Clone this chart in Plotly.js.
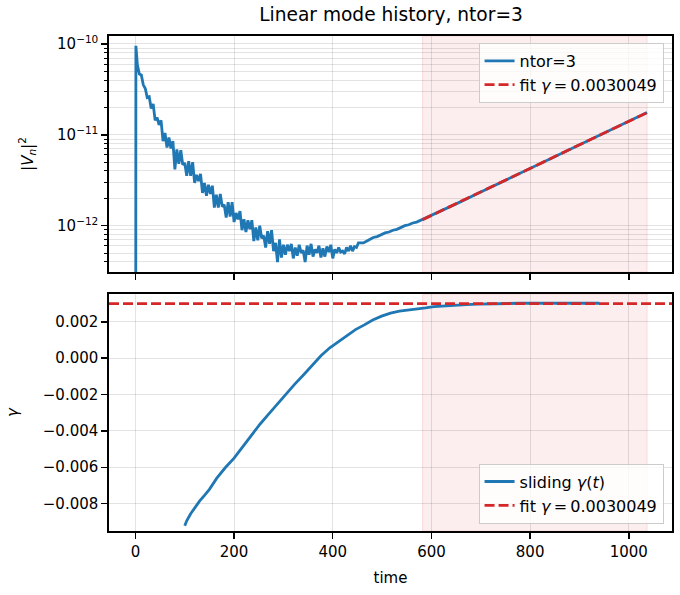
<!DOCTYPE html>
<html>
<head>
<meta charset="utf-8">
<script src="https://cdn.plot.ly/plotly-3.0.1.min.js"></script>
<style>
    html, body { margin: 0; padding: 0; background: #ffffff; }
    #chart { width: 680px; height: 595px; }
</style>
</head>
<body>
<div id="chart"></div>
<script>
// |V_n|^2 history, values as log10 exponents
var historyTime = [
    0, 1, 4, 8, 12, 16, 20, 24, 28, 32, 36, 40, 44, 48, 52, 56, 60, 64, 68, 72, 76,
    80, 84, 88, 92, 96, 100, 104, 108, 112, 116, 120, 124, 128, 132, 136, 140, 144, 148, 152, 156,
    160, 164, 168, 172, 176, 180, 184, 188, 192, 196, 200, 204, 208, 212, 216, 220, 224, 228, 232, 236,
    240, 244, 248, 252, 256, 260, 264, 268, 272, 276, 280, 284, 288, 292, 296, 300, 304, 308, 312, 316,
    320, 324, 328, 332, 336, 340, 344, 348, 352, 356, 360, 364, 368, 372, 376, 380, 384, 388, 392, 396,
    400, 404, 408, 412, 416, 420, 424, 428, 432, 436, 440, 444, 448, 452,
    462, 472, 482, 490, 498, 506, 514, 522, 530, 538, 546, 554, 562, 570, 578,
    600, 650, 700, 750, 800, 850, 900, 950, 1000, 1037
];
var historyLog10 = [
    -20, -10.02, -10.23, -10.33, -10.34, -10.45, -10.49, -10.59, -10.58, -10.71, -10.66, -10.84, -10.81, -10.89, -10.84, -11.07, -10.98, -11.14, -11.03, -11.15, -11.07,
    -11.38, -11.16, -11.32, -11.17, -11.33, -11.31, -11.45, -11.29, -11.45, -11.30, -11.53, -11.44, -11.51, -11.43, -11.64, -11.53, -11.67, -11.55, -11.65, -11.56,
    -11.80, -11.66, -11.80, -11.65, -11.79, -11.77, -11.91, -11.74, -11.90, -11.74, -11.96, -11.86, -11.93, -11.84, -12.05, -11.93, -12.07, -11.94, -12.04, -11.94,
    -12.17, -12.02, -12.16, -12.00, -12.14, -12.11, -12.24, -12.06, -12.20, -12.05, -12.28, -12.19, -12.40, -12.15, -12.35, -12.21, -12.32, -12.21, -12.28, -12.20,
    -12.36, -12.24, -12.33, -12.21, -12.30, -12.27, -12.40, -12.22, -12.32, -12.20, -12.34, -12.26, -12.30, -12.22, -12.35, -12.25, -12.34, -12.23, -12.29, -12.21,
    -12.36, -12.26, -12.30, -12.24, -12.29, -12.28, -12.31, -12.24, -12.28, -12.22, -12.28, -12.23, -12.24, -12.19,
    -12.19, -12.16, -12.13, -12.12, -12.10, -12.08, -12.07, -12.05, -12.04, -12.02, -12.00, -11.99, -11.97, -11.96, -11.94,
    -11.89, -11.76, -11.63, -11.50, -11.37, -11.24, -11.11, -10.98, -10.85, -10.755
];

// exponential fit over the shaded window
var fitTime = [582, 1037];
var fitValue = [1.164e-12, 1.758e-11];
var fitGamma = 0.0030049;
var fitWindow = [582, 1037];

// sliding growth rate
var slidingTime = [
    100, 104, 112, 120, 130, 140, 150, 165, 182, 200, 218, 235, 252, 270, 288, 305, 323, 341, 358, 376, 394,
    411, 429, 446, 464, 481, 499, 517, 535, 552, 570, 588, 605, 627, 649, 671, 693, 715, 737, 780, 850, 940
];
var slidingGamma = [
    -0.00922, -0.00895, -0.00856, -0.00822, -0.00787, -0.00755, -0.00722, -0.00660, -0.00603, -0.00550, -0.00486,
    -0.00422, -0.00365, -0.00308, -0.00250, -0.00195, -0.00143, -0.00091, -0.00042, 0.00013, 0.00057,
    0.00091, 0.00123, 0.00157, 0.00183, 0.00210, 0.00231, 0.00248, 0.00259, 0.00264, 0.00268,
    0.00277, 0.00284, 0.00289, 0.00293, 0.00295, 0.00297, 0.00299, 0.00301, 0.00302, 0.00302, 0.00302
];

// axes
var xRange = [-53.5, 1087.5];
var timeTicks = [0, 200, 400, 600, 800, 1000];
var timeTickText = ["0", "200", "400", "600", "800", "1000"];
var logTicks = [1e-12, 1e-11, 1e-10];
var logTickText = ["10<sup>\u221212</sup>", "10<sup>\u221211</sup>", "10<sup>\u221210</sup>"];
var logMinorTicks = [
    4e-13, 5e-13, 6e-13, 7e-13, 8e-13, 9e-13,
    2e-12, 3e-12, 4e-12, 5e-12, 6e-12, 7e-12, 8e-12, 9e-12,
    2e-11, 3e-11, 4e-11, 5e-11, 6e-11, 7e-11, 8e-11, 9e-11
];
var gammaTicks = [-0.008, -0.006, -0.004, -0.002, 0, 0.002];
var gammaTickText = ["\u22120.008", "\u22120.006", "\u22120.004", "\u22120.002", "0.000", "0.002"];

var BLUE = "#1f77b4";
var RED = "#d62728";
var FONT = "DejaVu Sans, sans-serif";
var GRID = "rgba(0,0,0,0.11)";

var historyValue = historyLog10.map(v => Math.pow(10, v));
var fitLabel = "fit <i>\u03b3</i>\u2009=\u20090.0030049";

var traces = [
    {
        x: historyTime, y: historyValue, type: "scatter", mode: "lines",
        name: "ntor=3", line: { color: BLUE, width: 2.8 },
        xaxis: "x", yaxis: "y", legend: "legend"
    },
    {
        x: fitTime, y: fitValue, type: "scatter", mode: "lines",
        name: fitLabel, line: { color: RED, width: 2.8, dash: "10px,4px" },
        xaxis: "x", yaxis: "y", legend: "legend"
    },
    {
        x: slidingTime, y: slidingGamma, type: "scatter", mode: "lines",
        name: "sliding <i>\u03b3</i>(<i>t</i>)", line: { color: BLUE, width: 2.8 },
        xaxis: "x2", yaxis: "y2", legend: "legend2"
    },
    {
        x: xRange, y: [fitGamma, fitGamma], type: "scatter", mode: "lines",
        name: fitLabel, line: { color: RED, width: 2.8, dash: "10px,4px" },
        xaxis: "x2", yaxis: "y2", legend: "legend2"
    }
];

function spanShape(yref)
{
    return {
        type: "rect", xref: "x", yref: yref,
        x0: fitWindow[0], x1: fitWindow[1], y0: 0, y1: 1,
        fillcolor: "rgba(214,39,40,0.08)",
        line: { color: "rgba(214,39,40,0.12)", width: 1 },
        layer: "below"
    };
}

var axisCommon =
{
    showline: true, mirror: true, linecolor: "#000", linewidth: 1.7,
    ticks: "outside", ticklen: 6, tickwidth: 1.4, tickcolor: "#000",
    showgrid: true, gridcolor: GRID, gridwidth: 1, zeroline: false,
    tickfont: { family: FONT, size: 15, color: "#000" }
};

var legendCommon =
{
    bgcolor: "rgba(255,255,255,0.8)", bordercolor: "#cccccc", borderwidth: 1,
    font: { family: FONT, size: 16, color: "#000" },
    xanchor: "right", x: 0.985, tracegroupgap: 0
};

var layout =
{
    width: 680, height: 595,
    margin: { l: 109, r: 8, t: 36, b: 64 },
    paper_bgcolor: "#fff", plot_bgcolor: "#fff",
    font: { family: FONT, size: 15, color: "#000" },
    title: { text: "Linear mode history, ntor=3", font: { family: FONT, size: 18.6, color: "#000" }, x: 0.575, xanchor: "center", y: 0.975, yanchor: "middle" },
    xaxis: Object.assign({}, axisCommon, {
        domain: [0, 1], anchor: "y", range: xRange, matches: "x2",
        tickmode: "array", tickvals: timeTicks, ticktext: timeTickText, showticklabels: false
    }),
    yaxis: Object.assign({}, axisCommon, {
        domain: [0.5232, 1], anchor: "x", type: "log", range: [-12.51, -9.912],
        tickmode: "array", tickvals: logTicks, ticktext: logTickText,
        minor: { tickmode: "array", tickvals: logMinorTicks, ticks: "outside", ticklen: 3.5, tickwidth: 1, tickcolor: "#000", showgrid: true, gridcolor: GRID, gridwidth: 1 },
        title: { text: "|<i>V</i><sub><i>n</i></sub>|<sup>2</sup>", font: { family: FONT, size: 15, color: "#000" }, standoff: 20 }
    }),
    xaxis2: Object.assign({}, axisCommon, {
        domain: [0, 1], anchor: "y2", range: xRange,
        tickmode: "array", tickvals: timeTicks, ticktext: timeTickText,
        title: { text: "time", font: { family: FONT, size: 15, color: "#000" }, standoff: 13 }
    }),
    yaxis2: Object.assign({}, axisCommon, {
        domain: [0, 0.4788], anchor: "x2", range: [-0.00951, 0.00353],
        tickmode: "array", tickvals: gammaTicks, ticktext: gammaTickText,
        title: { text: "<i>\u03b3</i>", font: { family: FONT, size: 15, color: "#000" }, standoff: 20 }
    }),
    legend: Object.assign({}, legendCommon, { y: 0.986, yanchor: "top" }),
    legend2: Object.assign({}, legendCommon, { y: 0.015, yanchor: "bottom" }),
    shapes: [spanShape("y domain"), spanShape("y2 domain")]
};

Plotly.newPlot("chart", traces, layout, { displayModeBar: false, staticPlot: true });
</script>
</body>
</html>
